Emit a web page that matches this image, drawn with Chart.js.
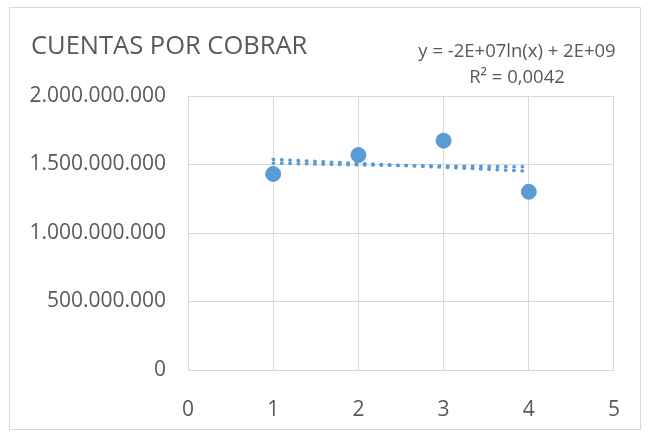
<!DOCTYPE html>
<html>
<head>
<meta charset="utf-8">
<script src="https://cdn.jsdelivr.net/npm/chart.js@4"></script>
<style>
  html, body { margin: 0; padding: 0; background: #fff; }
  #wrap { width: 647px; height: 435px; position: relative; }
</style>
</head>
<body>
<div id="wrap"><canvas id="chart"></canvas></div>
<script>
// CUENTAS POR COBRAR – scatter with linear and log trendlines

const periods = [1, 2, 3, 4];
const cuentas = [1431000000, 1569000000, 1674000000, 1301000000];

// trendline values
const linearTrend = [1537000000, 1508000000, 1480000000, 1451000000];
const logTrend = [1510000000, 1497000000, 1489000000, 1483000000];

const xTickValues = [0, 1, 2, 3, 4, 5];
const xTickLabels = ['0', '1', '2', '3', '4', '5'];
const yTickValues = [0, 500000000, 1000000000, 1500000000, 2000000000];
const yTickLabels = ['0', '500.000.000', '1.000.000.000', '1.500.000.000', '2.000.000.000'];

const chartTitle = 'CUENTAS POR COBRAR';
const equationLines = ['y = -2E+07ln(x) + 2E+09', 'R² = 0,0042'];

const BLUE = '#5B9BD5';
const TEXT = '#595959';
const GRID = '#d9d9d9';
const FONT = "'Open Sans', sans-serif";

const toXY = (ys) => ys.map((y, i) => ({ x: periods[i], y }));

// frame, title and trendline label
const decor = {
  id: 'decor',
  afterDraw(chart) {
    const ctx = chart.ctx;
    ctx.save();
    ctx.strokeStyle = GRID;
    ctx.lineWidth = 1;
    ctx.strokeRect(9.5, 7.5, 631, 422);

    ctx.fillStyle = TEXT;
    ctx.textBaseline = 'middle';
    ctx.textAlign = 'left';
    ctx.font = '25.5px ' + FONT;
    ctx.fillText(chartTitle, 31, 47);

    ctx.textAlign = 'center';
    ctx.font = '18.5px ' + FONT;
    ctx.fillText(equationLines[0], 517, 52);
    ctx.fillText(equationLines[1], 517, 78);
    ctx.restore();
  }
};

const trendStyle = {
  type: 'line',
  borderColor: BLUE,
  borderWidth: 3.5,
  borderDash: [0.5, 7.8],
  borderCapStyle: 'round',
  pointRadius: 0,
  fill: false,
  tension: 0,
};

new Chart(document.getElementById('chart'), {
  type: 'scatter',
  data: {
    datasets: [
      Object.assign({ data: toXY(linearTrend), order: 0 }, trendStyle),
      Object.assign({ data: toXY(logTrend), order: 0 }, trendStyle),
      {
        data: toXY(cuentas),
        backgroundColor: BLUE,
        borderColor: BLUE,
        pointRadius: 7.5,
        pointHoverRadius: 7.5,
        order: 1,
      },
    ],
  },
  options: {
    responsive: true,
    maintainAspectRatio: false,
    animation: false,
    layout: { padding: { top: 96, right: 33, left: 0, bottom: 0 } },
    scales: {
      x: {
        type: 'linear',
        min: 0, max: 5,
        afterFit: s => { s.height = 65; },
        afterBuildTicks: s => { s.ticks = xTickValues.map(v => ({ value: v })); },
        grid: { color: GRID, drawTicks: false },
        border: { display: false },
        ticks: {
          padding: 27,
          color: TEXT,
          font: { family: FONT, size: 21 },
          callback: v => xTickLabels[xTickValues.indexOf(v)],
        },
      },
      y: {
        min: 0, max: 2000000000,
        afterFit: s => { s.width = 188; },
        afterBuildTicks: s => { s.ticks = yTickValues.map(v => ({ value: v })); },
        grid: { color: GRID, drawTicks: false },
        border: { display: false },
        ticks: {
          padding: 22,
          color: TEXT,
          font: { family: FONT, size: 21 },
          callback: v => yTickLabels[yTickValues.indexOf(v)],
        },
      },
    },
    plugins: {
      legend: { display: false },
      tooltip: { enabled: false },
    },
  },
  plugins: [decor],
});
</script>
</body>
</html>
